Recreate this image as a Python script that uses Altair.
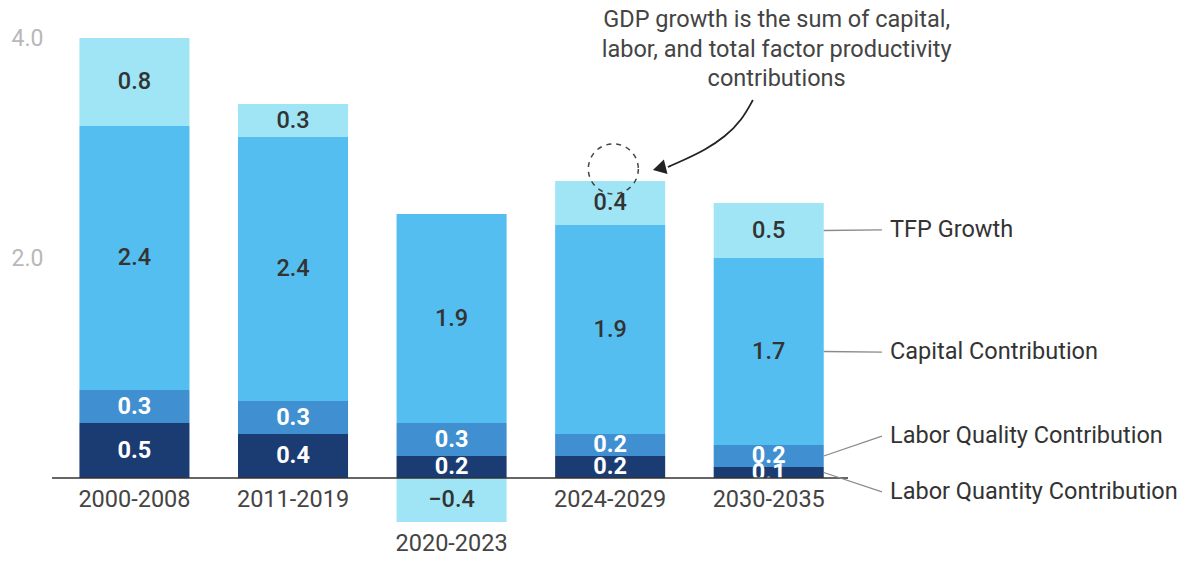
import altair as alt
import pandas as pd

# ---------------- data ----------------
periods = ["2000-2008", "2011-2019", "2020-2023", "2024-2029", "2030-2035"]
labor_quantity = [0.5, 0.4, 0.2, 0.2, 0.1]
labor_quality = [0.3, 0.3, 0.3, 0.2, 0.2]
capital = [2.4, 2.4, 1.9, 1.9, 1.7]
tfp = [0.8, 0.3, -0.4, 0.4, 0.5]

components = ["Labor Quantity Contribution", "Labor Quality Contribution",
              "Capital Contribution", "TFP Growth"]
colors = ["#1b3b73", "#3f8fd1", "#55bef0", "#9fe5f5"]
label_colors = ["white", "white", "#333333", "#333333"]
label_weights = ["bold", "bold", 500, 500]

# right-hand series labels (label y in data units)
series_label_y = [-0.127, 0.38, 1.145, 2.255]

# annotation
note_lines = ["GDP growth is the sum of capital,",
              "labor, and total factor productivity",
              "contributions"]
note_x = 4.05
note_y = [4.16, 3.895, 3.63]
circle_x, circle_y = 3.02, 2.81
arrow_x = [3.900, 3.831, 3.724, 3.598, 3.465, 3.364]
arrow_y = [3.436, 3.255, 3.100, 2.982, 2.891, 2.827]
head_x, head_y = 3.31, 2.815

# ---------------- tables ----------------
series = [labor_quantity, labor_quality, capital, tfp]
HALF = 0.347
rows = []
for i, p in enumerate(periods):
    pos, neg = 0.0, 0.0
    for c, comp in enumerate(components):
        v = series[c][i]
        if v >= 0:
            y0, y1 = pos, pos + v
            pos = y1
        else:
            y0, y1 = neg, neg + v
            neg = y1
        txt = f"{v:.1f}".replace("-", "\u2212")
        rows.append(dict(idx=i, period=p, component=comp, value=v, y0=y0, y1=y1,
                         mid=(y0 + y1) / 2, xl=i - HALF, xr=i + HALF,
                         label=txt, tcolor=label_colors[c], order=c))
df = pd.DataFrame(rows)

cat = pd.DataFrame({
    "idx": list(range(len(periods))),
    "period": periods,
    "low": [min(0.0, tfp[i]) for i in range(len(periods))],
})

last = df[df["idx"] == len(periods) - 1].reset_index(drop=True)
leaders = pd.DataFrame({
    "component": components,
    "xs": [len(periods) - 1 + HALF] * 4,
    "xe": [len(periods) - 1 + 0.714] * 4,
    "ys": list(last["mid"]),
    "ye": series_label_y,
    "xt": [len(periods) - 1 + 0.765] * 4,
})

note = pd.DataFrame({"x": [note_x] * 3, "y": note_y, "text": note_lines})
arrow = pd.DataFrame({"x": arrow_x, "y": arrow_y, "o": list(range(len(arrow_x)))})
circ = pd.DataFrame({"x": [circle_x], "y": [circle_y]})
head = pd.DataFrame({"x": [head_x], "y": [head_y]})

# ---------------- scales ----------------
XMIN, XMAX = -0.52, 4.5
xs = alt.Scale(domain=[XMIN, XMAX], nice=False, zero=False)
ys = alt.Scale(domain=[-0.6, 4.2], nice=False, zero=False)
FONT = "Roboto"
FS = 23.5

yaxis = alt.Axis(values=[2, 4], format=".1f", title=None, domain=False, ticks=False,
                 grid=False, labelFont=FONT, labelFontSize=23, labelColor="#b8b8b8",
                 labelPadding=9)

bars = alt.Chart(df).mark_bar().encode(
    x=alt.X("xl:Q", scale=xs, axis=None),
    x2="xr:Q",
    y=alt.Y("y0:Q", scale=ys, axis=yaxis),
    y2="y1:Q",
    color=alt.Color("component:N", scale=alt.Scale(domain=components, range=colors),
                    legend=None),
)

text_layers = []
for c, comp in enumerate(components):
    text_layers.append(
        alt.Chart(df[df["component"] == comp]).mark_text(
            font=FONT, fontSize=FS, fontWeight=label_weights[c], baseline="middle",
            align="center", color=label_colors[c]
        ).encode(
            x=alt.X("idx:Q", scale=xs),
            y=alt.Y("mid:Q", scale=ys),
            text="label:N",
        )
    )

baseline = alt.Chart(pd.DataFrame({"a": [XMIN], "b": [XMAX], "y": [0.0]})).mark_rule(
    color="#333333", strokeWidth=1.5
).encode(x=alt.X("a:Q", scale=xs), x2="b:Q", y=alt.Y("y:Q", scale=ys))

xlabels = alt.Chart(cat).mark_text(
    font=FONT, fontSize=FS, color="#444444", baseline="middle", align="center", dy=22
).encode(x=alt.X("idx:Q", scale=xs), y=alt.Y("low:Q", scale=ys), text="period:N")

leader_lines = alt.Chart(leaders).mark_rule(color="#8a8a8a", strokeWidth=1.3).encode(
    x=alt.X("xs:Q", scale=xs), x2="xe:Q", y=alt.Y("ys:Q", scale=ys), y2="ye:Q"
)
leader_text = alt.Chart(leaders).mark_text(
    font=FONT, fontSize=FS, color="#333333", align="left", baseline="middle"
).encode(x=alt.X("xt:Q", scale=xs), y=alt.Y("ye:Q", scale=ys), text="component:N")

note_text = alt.Chart(note).mark_text(
    font=FONT, fontSize=FS, color="#444444", align="center", baseline="middle"
).encode(x=alt.X("x:Q", scale=xs), y=alt.Y("y:Q", scale=ys), text="text:N")

arrow_line = alt.Chart(arrow).mark_line(
    interpolate="basis", color="#222222", strokeWidth=1.8
).encode(x=alt.X("x:Q", scale=xs), y=alt.Y("y:Q", scale=ys), order="o:Q")

arrow_head = alt.Chart(head).mark_point(
    shape="triangle-left", filled=True, size=230, angle=346, color="#222222", opacity=1
).encode(x=alt.X("x:Q", scale=xs), y=alt.Y("y:Q", scale=ys))

circle = alt.Chart(circ).mark_point(
    shape="circle", size=2500, filled=False, strokeDash=[5, 5], color="#444444",
    strokeWidth=1.5, opacity=1
).encode(x=alt.X("x:Q", scale=xs), y=alt.Y("y:Q", scale=ys))

chart = alt.layer(
    bars, *text_layers, baseline, xlabels, leader_lines, leader_text,
    note_text, arrow_line, arrow_head, circle
).properties(
    width=796, height=528,
    padding={"left": 44, "top": 8, "right": 336, "bottom": 9},
    autosize=alt.AutoSizeParams(type="none"),
).configure_view(stroke=None)

chart.save("out.html", embed_options={"renderer": "svg", "actions": False})
